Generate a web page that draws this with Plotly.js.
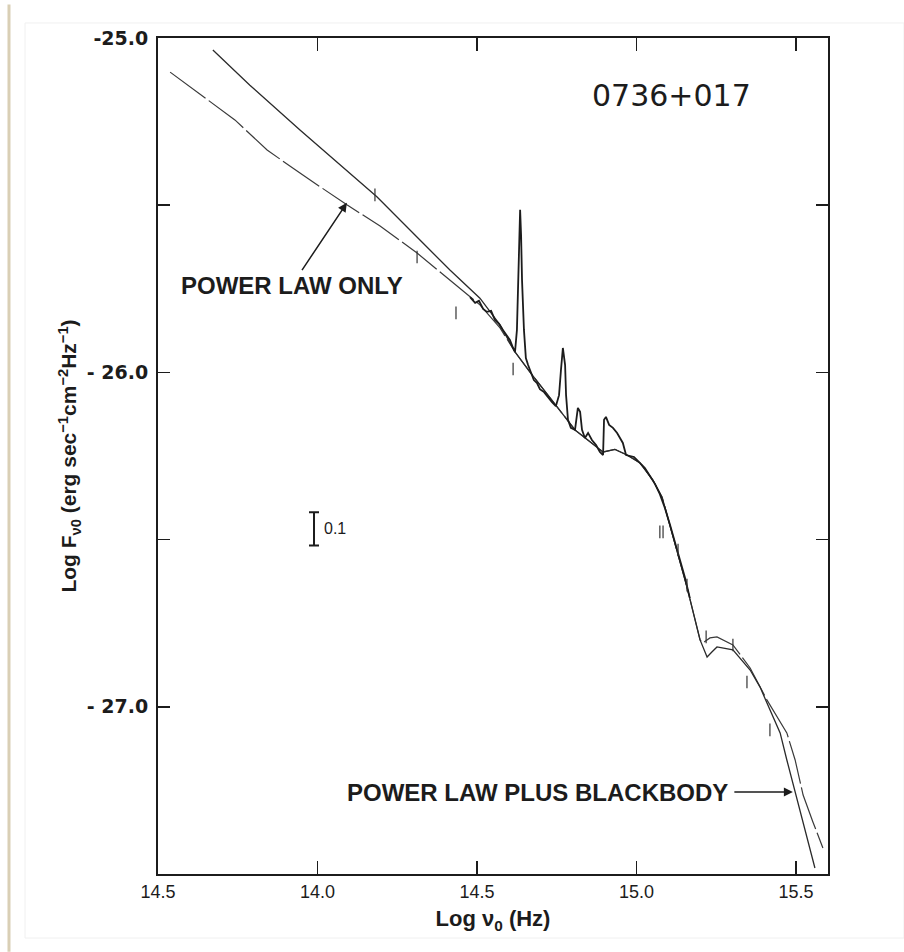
<!DOCTYPE html>
<html>
<head>
<meta charset="utf-8">
<script src="https://cdn.plot.ly/plotly-3.0.1.min.js"></script>
<style>html,body{margin:0;padding:0;background:#fff;}#chart{width:904px;height:952px;}</style>
</head>
<body>
<div id="chart"></div>
<script>
// Power law plus blackbody model (solid)
const plbbX = [13.672,13.788,13.945,14.070,14.186,14.321,14.415,14.509,14.572,14.619,14.666,14.751,14.807,14.895,14.932,14.970,15.011,15.051,15.080,15.111,15.158,15.199,15.221,15.236,15.252,15.302,15.356,15.387,15.450,15.471,15.497,15.528,15.559];
const plbbY = [-25.036,-25.141,-25.275,-25.380,-25.475,-25.604,-25.694,-25.778,-25.858,-25.939,-25.999,-26.103,-26.172,-26.238,-26.230,-26.247,-26.271,-26.322,-26.373,-26.480,-26.642,-26.800,-26.851,-26.836,-26.821,-26.830,-26.890,-26.941,-27.078,-27.159,-27.255,-27.368,-27.482];

// Power law only model (dashed)
const plX = [13.538,13.632,13.741,13.842,13.945,14.092,14.196,14.312,14.415,14.509,14.572,14.619,14.666,14.751,14.807,14.895,14.932,14.970,15.011,15.051,15.080,15.111,15.158,15.199,15.208,15.230,15.252,15.302,15.356,15.409,15.471,15.497,15.522,15.553,15.584];
const plY = [-25.102,-25.167,-25.245,-25.335,-25.404,-25.499,-25.562,-25.643,-25.724,-25.798,-25.867,-25.939,-25.999,-26.103,-26.172,-26.238,-26.230,-26.247,-26.271,-26.322,-26.373,-26.480,-26.642,-26.800,-26.809,-26.794,-26.791,-26.815,-26.884,-26.980,-27.078,-27.159,-27.264,-27.345,-27.422];

// Observed spectrum with emission lines
const obsX = [14.478,14.494,14.506,14.519,14.531,14.544,14.556,14.569,14.581,14.594,14.603,14.613,14.619,14.625,14.628,14.631,14.635,14.638,14.641,14.647,14.653,14.660,14.669,14.678,14.688,14.697,14.710,14.722,14.735,14.747,14.757,14.763,14.769,14.776,14.779,14.785,14.794,14.807,14.816,14.823,14.829,14.838,14.848,14.860,14.873,14.885,14.895,14.898,14.904,14.914,14.926,14.939,14.948,14.957,14.967,14.979,14.992,15.011,15.026,15.042,15.058,15.073,15.089,15.105,15.120,15.136,15.152,15.167];
const obsY = [-25.775,-25.792,-25.786,-25.810,-25.819,-25.816,-25.843,-25.855,-25.873,-25.891,-25.903,-25.927,-25.939,-25.873,-25.754,-25.604,-25.514,-25.589,-25.724,-25.873,-25.957,-25.978,-26.002,-26.023,-26.032,-26.050,-26.059,-26.074,-26.089,-26.101,-26.068,-25.993,-25.927,-25.978,-26.068,-26.142,-26.166,-26.172,-26.106,-26.118,-26.172,-26.196,-26.181,-26.202,-26.217,-26.238,-26.247,-26.142,-26.133,-26.157,-26.166,-26.181,-26.196,-26.211,-26.247,-26.250,-26.253,-26.271,-26.286,-26.310,-26.334,-26.364,-26.406,-26.456,-26.510,-26.561,-26.615,-26.675];

// Photometric points (short vertical marks)
const photX = [14.180,14.312,14.434,14.613,15.073,15.083,15.130,15.158,15.218,15.302,15.346,15.418];
const photY = [-25.469,-25.655,-25.822,-25.990,-26.477,-26.477,-26.531,-26.636,-26.791,-26.815,-26.926,-27.069];

// Scale bar (0.1 dex)
const scaleX = [13.989];
const scaleY = [-26.468];
const scaleHalf = [0.05];

const xTickVals = [13.5,14.0,14.5,15.0,15.5];
const xTickText = ["14.5","14.0","14.5","15.0","15.5"];
const yTickVals = [-25.0,-26.0,-27.0];
const yTickText = ["-25.0","- 26.0","- 27.0"];
const yMinorVals = [-25.5,-26.5];

const ink = '#1c1c1c';
const traces = [
  {x: plX, y: plY, mode:'lines', name:'Power law only', line:{color:'#3a3a3a', width:1.2, dash:'44px,4px'}, hoverinfo:'skip'},
  {x: plbbX, y: plbbY, mode:'lines', name:'Power law plus blackbody', line:{color:'#2a2a2a', width:1.3}, hoverinfo:'skip'},
  {x: obsX, y: obsY, mode:'lines', name:'Observed', line:{color:ink, width:1.8}, hoverinfo:'skip'},
  {x: photX, y: photY, mode:'markers', name:'Photometry', marker:{symbol:'line-ns-open', size:9, color:'#333', line:{color:'#333', width:1.2}}, hoverinfo:'skip'},
  {x: scaleX, y: scaleY, mode:'markers', name:'0.1', marker:{size:1, color:'rgba(0,0,0,0)'},
   error_y:{type:'data', array:scaleHalf, visible:true, width:5, thickness:2, color:ink}, hoverinfo:'skip'}
];

const fontL = 'Liberation Sans, Arial, sans-serif';
const layout = {
  width: 904, height: 952,
  margin: {l:158, r:76, t:38, b:78},
  paper_bgcolor:'#ffffff', plot_bgcolor:'#ffffff',
  showlegend:false,
  xaxis: {
    range:[13.5,15.6], tickvals:xTickVals, ticktext:xTickText,
    ticks:'inside', ticklen:13, tickwidth:1.6, tickcolor:ink,
    showline:true, linecolor:ink, linewidth:2, mirror:'ticks',
    showgrid:false, zeroline:false,
    tickfont:{family:fontL, size:18, color:ink},
    title:{text:'Log ν<sub>0</sub> (Hz)', font:{family:fontL, size:22, color:ink, weight:'bold'}, standoff:10}
  },
  yaxis: {
    range:[-27.5,-25.0], tickvals:yTickVals, ticktext:yTickText,
    ticks:'inside', ticklen:12, tickwidth:1.6, tickcolor:ink,
    minor:{tickvals:yMinorVals, ticks:'inside', ticklen:12, tickwidth:1.6, tickcolor:ink, showgrid:false},
    showline:true, linecolor:ink, linewidth:2, mirror:'ticks',
    showgrid:false, zeroline:false,
    tickfont:{family:'DejaVu Sans, sans-serif', size:19, color:ink, weight:'bold'},
    ticklabelstandoff:4,
    title:{text:'Log F<sub>ν0</sub> (erg sec<sup>−1</sup>cm<sup>−2</sup>Hz<sup>−1</sup>)', font:{family:fontL, size:21, color:ink, weight:'bold'}, standoff:4}
  },
  annotations: [
    {x:15.111, y:-25.173, xref:'x', yref:'y', text:'0736+017', showarrow:false,
     font:{family:'DejaVu Sans, sans-serif', size:30, color:ink}},
    {x:14.092, y:-25.493, xref:'x', yref:'y', ax:13.920, ay:-25.739, axref:'x', ayref:'y',
     text:'POWER LAW ONLY', showarrow:true, arrowhead:2, arrowsize:1.2, arrowwidth:1.5, arrowcolor:ink,
     font:{family:fontL, size:24, color:ink, weight:'bold'}},
    {x:15.490, y:-27.255, xref:'x', yref:'y', ax:14.689, ay:-27.255, axref:'x', ayref:'y',
     text:'POWER LAW PLUS BLACKBODY', showarrow:true, arrowhead:2, arrowsize:1.2, arrowwidth:1.5, arrowcolor:ink,
     borderpad:6, font:{family:fontL, size:24, color:ink, weight:'bold'}},
    {x:14.015, y:-26.468, xref:'x', yref:'y', text:'0.1', showarrow:false, xanchor:'left',
     font:{family:fontL, size:16, color:ink}}
  ],
  shapes: [
    {type:'line', xref:'paper', yref:'paper', x0:-0.2224, x1:-0.2224, y0:-0.093, y1:1.04, line:{color:'#d9cfb5', width:3}},
    {type:'rect', xref:'paper', yref:'paper', x0:-0.1985, x1:1.1134, y0:-0.0766, y1:1.018, line:{color:'#f0f0f0', width:1}}
  ]
};

Plotly.newPlot('chart', traces, layout, {staticPlot:true, displayModeBar:false});
</script>
</body>
</html>
